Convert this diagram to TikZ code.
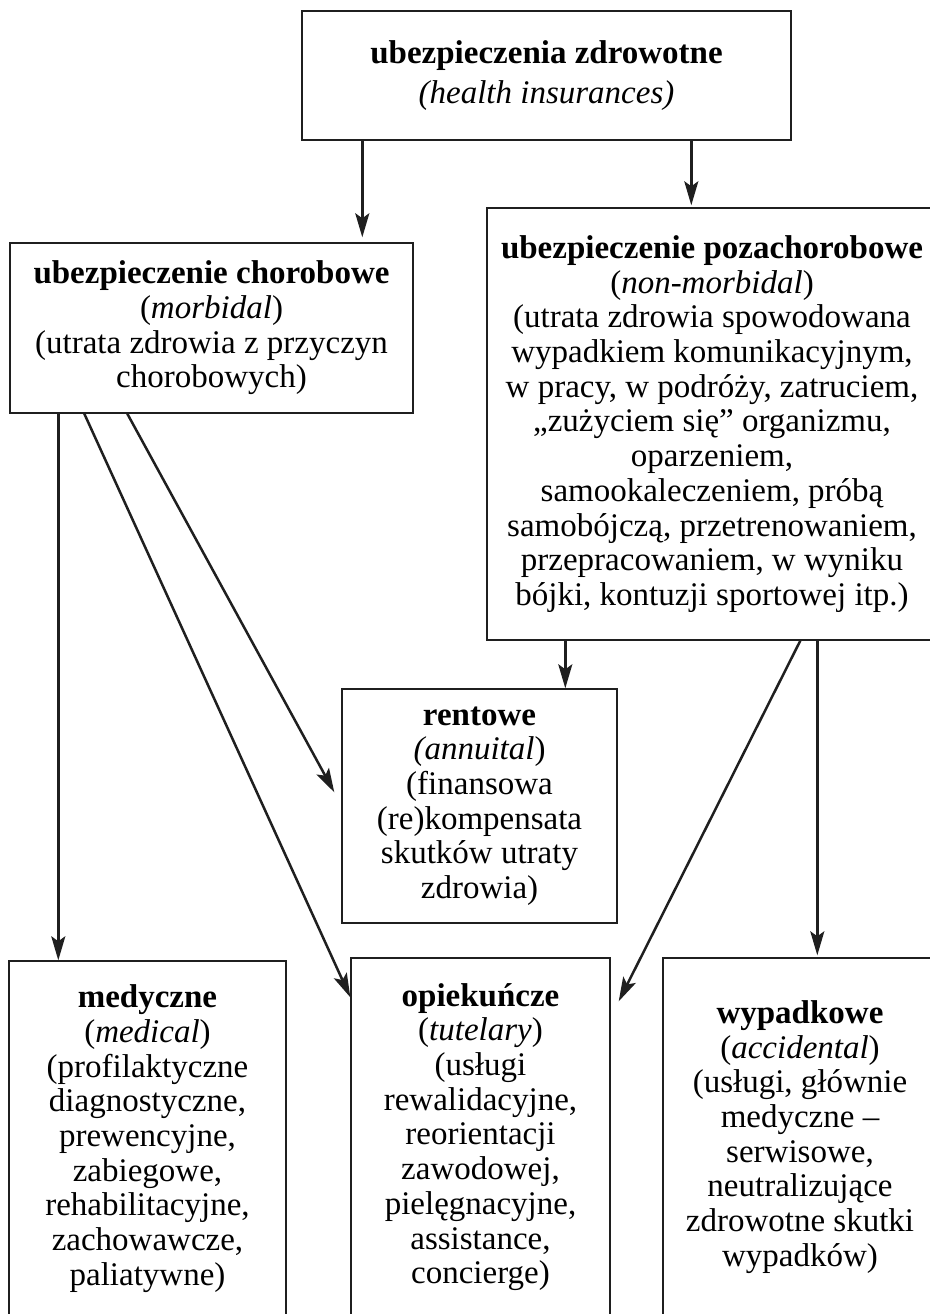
\documentclass[tikz,border=0pt]{standalone}
\usepackage{fontspec}
\setmainfont{Liberation Serif}
\usetikzlibrary{arrows.meta}
\begin{document}
\begin{tikzpicture}[x=1pt,y=-1pt,
  box/.style={draw=black!88, line width=1.4pt, inner sep=0pt, align=center,
    font=\fontsize{33}{34.7}\selectfont},
  arr/.style={line width=2.5pt, draw=black!88,
    -{Stealth[length=24pt,width=14pt,inset=5pt]}}]
\useasboundingbox (0,0) rectangle (929,1314);
\node[box, minimum width=489, minimum height=129, font=\fontsize{33}{40}\selectfont] (top) at (546.5,75.5)
  {\textbf{ubezpieczenia zdrowotne}\\\textit{(health insurances)}};
\node[box, minimum width=403, minimum height=170] (chor) at (211.5,328)
  {\textbf{ubezpieczenie chorobowe}\\(\textit{morbidal})\\(utrata zdrowia z przyczyn\\chorobowych)};
\node[box, minimum width=450, minimum height=432] (pozach) at (712,424)
  {\textbf{ubezpieczenie pozachorobowe}\\(\textit{non-morbidal})\\(utrata zdrowia spowodowana\\wypadkiem komunikacyjnym,\\w pracy, w podróży, zatruciem,\\„zużyciem się” organizmu,\\oparzeniem,\\samookaleczeniem, próbą\\samobójczą, przetrenowaniem,\\przepracowaniem, w wyniku\\bójki, kontuzji sportowej itp.)};
\node[box, minimum width=275, minimum height=234] (rent) at (479.5,806)
  {\textbf{rentowe}\\\textit{(annuital})\\(finansowa\\(re)kompensata\\skutków utraty\\zdrowia)};
\node[box, minimum width=277, minimum height=355] (med) at (147.5,1138.5)
  {\textbf{medyczne}\\(\textit{medical})\\(profilaktyczne\\diagnostyczne,\\prewencyjne,\\zabiegowe,\\rehabilitacyjne,\\zachowawcze,\\paliatywne)};
\node[box, minimum width=259, minimum height=358] (opiek) at (480.5,1137)
  {\textbf{opiekuńcze}\\(\textit{tutelary})\\(usługi\\rewalidacyjne,\\reorientacji\\zawodowej,\\pielęgnacyjne,\\assistance,\\concierge)};
\node[box, minimum width=274, minimum height=358] (wyp) at (800,1137)
  {\textbf{wypadkowe}\\(\textit{accidental})\\(usługi, głównie\\medyczne –\\serwisowe,\\neutralizujące\\zdrowotne skutki\\wypadków)};
\coordinate (a1) at ([xshift=61]top.south west);
\coordinate (a2) at ([xshift=390]top.south west);
\coordinate (b1) at ([xshift=49]chor.south west);
\coordinate (b2) at ([xshift=75]chor.south west);
\coordinate (b3) at ([xshift=118]chor.south west);
\coordinate (c1) at ([xshift=79]pozach.south west);
\coordinate (c2) at ([xshift=314]pozach.south west);
\coordinate (c3) at ([xshift=331]pozach.south west);
\draw[arr] (a1) -- ([yshift=5]a1 |- chor.north);
\draw[arr] (a2) -- ([yshift=2]a2 |- pozach.north);
\draw[arr] (b1) -- (b1 |- med.north);
\draw[arr] (b2) -- ([yshift=-40]opiek.north west);
\draw[arr] (b3) -- ([xshift=-7,yshift=-104]rent.north west);
\draw[arr] (c1) -- (c1 |- rent.north);
\draw[arr] (c2) -- ([xshift=8,yshift=-44]opiek.north east);
\draw[arr] (c3) -- ([yshift=2]c3 |- wyp.north);
\end{tikzpicture}
\end{document}
